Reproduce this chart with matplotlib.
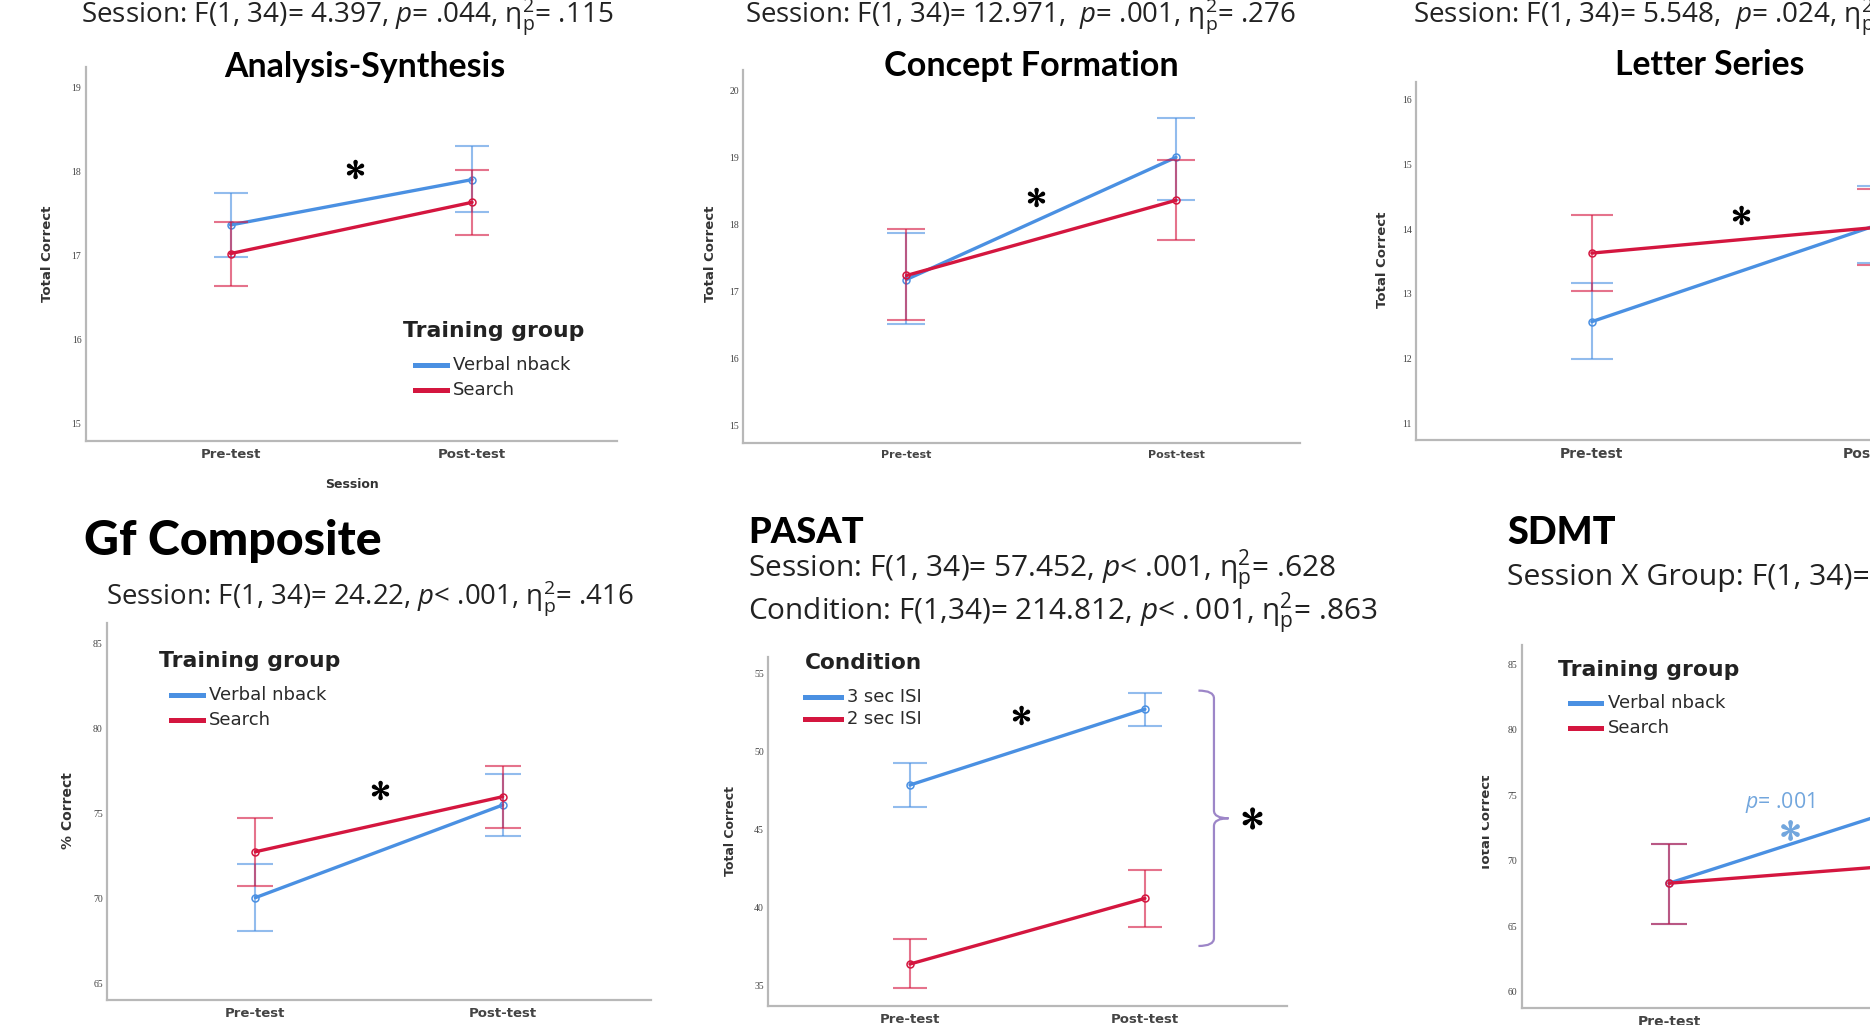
import matplotlib
matplotlib.use("Agg")
import matplotlib.pyplot as plt
from matplotlib.lines import Line2D
from matplotlib.patches import Rectangle, PathPatch
from matplotlib.path import Path

W, H, DPI = 1870, 1025, 100

plt.rcParams['mathtext.fontset'] = 'custom'
plt.rcParams['mathtext.rm'] = 'Open Sans'
plt.rcParams['mathtext.it'] = 'Open Sans:italic'
plt.rcParams['mathtext.bf'] = 'Open Sans:bold'
plt.rcParams['mathtext.fallback'] = 'stixsans'

# ---------------- data ----------------
sessions = ["Pre-test", "Post-test"]
groups = ["Verbal nback", "Search"]
conditions = ["3 sec ISI", "2 sec ISI"]

# Analysis-Synthesis
as_nback, as_nback_lo, as_nback_hi = [17.36, 17.90], [16.98, 17.52], [17.74, 18.30]
as_search, as_search_lo, as_search_hi = [17.02, 17.63], [16.64, 17.24], [17.40, 18.02]
# Concept Formation
cf_nback, cf_nback_lo, cf_nback_hi = [17.18, 19.00], [16.52, 18.37], [17.88, 19.58]
cf_search, cf_search_lo, cf_search_hi = [17.24, 18.36], [16.57, 17.77], [17.93, 18.96]
# Letter Series
ls_nback, ls_nback_lo, ls_nback_hi = [12.57, 14.07], [11.99, 13.48], [13.17, 14.66]
ls_search, ls_search_lo, ls_search_hi = [13.63, 14.03], [13.05, 13.44], [14.22, 14.62]
# Gf Composite
gf_nback, gf_nback_lo, gf_nback_hi = [70.04, 75.49], [68.08, 73.68], [72.02, 77.31]
gf_search, gf_search_lo, gf_search_hi = [72.74, 75.98], [70.72, 74.15], [74.71, 77.80]
# PASAT
pa_3s, pa_3s_lo, pa_3s_hi = [47.86, 52.73], [46.43, 51.66], [49.26, 53.80]
pa_2s, pa_2s_lo, pa_2s_hi = [36.35, 40.57], [34.79, 38.75], [37.94, 42.40]
# SDMT
sd_nback, sd_nback_lo, sd_nback_hi = [68.28, 74.20], [65.18, 71.20], [71.28, 77.20]
sd_search, sd_search_lo, sd_search_hi = [68.28, 69.70], [65.18, 66.70], [71.28, 72.70]

# statistics text
hdr_as = r"Session: F(1, 34)= 4.397, $\it{p}$= .044, $\mathregular{\eta_{p}^{2}}$= .115"
hdr_cf = r"Session: F(1, 34)= 12.971,  $\it{p}$= .001, $\mathregular{\eta_{p}^{2}}$= .276"
hdr_ls = r"Session: F(1, 34)= 5.548,  $\it{p}$= .024, $\mathregular{\eta_{p}^{2}}$"
hdr_gf = r"Session: F(1, 34)= 24.22, $\it{p}$< .001, $\mathregular{\eta_{p}^{2}}$= .416"
hdr_pa1 = r"Session: F(1, 34)= 57.452, $\it{p}$< .001, $\mathregular{\eta_{p}^{2}}$= .628"
hdr_pa2 = r"Condition: F(1,34)= 214.812, $\it{p}$< $\it{.001}$, $\mathregular{\eta_{p}^{2}}$= .863"
hdr_sd = r"Session X Group: F(1, 34)="
sd_ptext = r"$\it{p}$= .001"

BLUE = '#4a90e2'
RED = '#d4163f'
LBLUE = '#72a6dd'
PURPLE = '#9d86c8'
SPINE = '#b8b8b8'

fig = plt.figure(figsize=(W / DPI, H / DPI), dpi=DPI)
fig.patch.set_facecolor('white')
REN = fig.canvas.get_renderer()


def fx(x):
    return x / W


def fy(y):
    return 1 - y / H


def ftext(x, y, s, **kw):
    return fig.text(fx(x), fy(y), s, **kw)


def fit(t, width):
    w = t.get_window_extent(renderer=REN).width
    t.set_fontsize(t.get_fontsize() * width / w)
    return t.get_fontsize()


def make_ax(l, t, r, b, xlim, ylim, yticks, capsize, xt_size=9.5, yt_size=7):
    ax = fig.add_axes([fx(l), fy(b), (r - l) / W, (b - t) / H])
    ax.set_xlim(*xlim)
    ax.set_ylim(*ylim)
    ax.set_xticks(range(len(sessions)))
    ax.set_xticklabels(sessions)
    ax.set_yticks(yticks)
    for s in ['top', 'right']:
        ax.spines[s].set_visible(False)
    for s in ['left', 'bottom']:
        ax.spines[s].set_color(SPINE)
        ax.spines[s].set_linewidth(1.6)
    ax.tick_params(length=0)
    ax.tick_params(axis='x', pad=5)
    ax.tick_params(axis='y', pad=3)
    for lab in ax.get_xticklabels():
        lab.set_fontfamily(['Liberation Sans Narrow', 'DejaVu Sans'])
        lab.set_fontweight('bold')
        lab.set_fontsize(xt_size)
        lab.set_color('#444444')
    for lab in ax.get_yticklabels():
        lab.set_fontfamily(['Liberation Serif', 'DejaVu Serif'])
        lab.set_fontsize(yt_size)
        lab.set_color('#444444')
    ax.patch.set_alpha(0)
    ax._capsize = capsize
    return ax


def series(ax, mean, lo, hi, color):
    x = list(range(len(sessions)))
    err = [[m - l for m, l in zip(mean, lo)], [h - m for m, h in zip(mean, hi)]]
    ax.errorbar(x, mean, yerr=err, fmt='none', ecolor=color, alpha=0.6,
                elinewidth=1.5, capsize=ax._capsize, capthick=1.5)
    ax.plot(x, mean, color=color, lw=2.4, marker='o', ms=5, mfc='none',
            mew=1.1, solid_capstyle='round')


def star(ax, x, y, color='black', ms=13):
    ax.plot([x], [y], marker=r'$\ast$', ms=ms, color=color, ls='none')


def legend(title, labels, colors, tx, ty, lx0, lx1, ys, textx, title_w, label_w):
    t = ftext(tx, ty, title, ha='left', va='center', fontsize=12,
              fontweight='bold', family='DejaVu Sans', color='#222222')
    fit(t, title_w)
    size = None
    for lab, c, y in zip(labels, colors, ys):
        fig.add_artist(Line2D([fx(lx0), fx(lx1)], [fy(y), fy(y)], color=c, lw=3.6,
                              transform=fig.transFigure))
        tt = ftext(textx, y, lab, ha='left', va='center', fontsize=11,
                   family='DejaVu Sans', color='#2a2a2a')
        if size is None:
            size = fit(tt, label_w)
        else:
            tt.set_fontsize(size)


def ylab(x, y, s, size=9.5):
    ftext(x, y, s, rotation=90, ha='center', va='center', fontsize=size,
          fontweight='bold', family='DejaVu Sans', color='#333333')


HDR = dict(family='Open Sans', color='#222222', fontsize=17)
TTL = dict(family='Lato', fontweight='bold', color='black', fontsize=20)
BIG = dict(family='Lato', fontweight='black', color='black', fontsize=26)

# ---------------- Analysis-Synthesis ----------------
ax1 = make_ax(85.6, 67, 617, 441, (-0.6, 1.6), (14.79, 19.24), range(15, 20), 12, 9.5)
series(ax1, as_nback, as_nback_lo, as_nback_hi, BLUE)
series(ax1, as_search, as_search_lo, as_search_hi, RED)
star(ax1, 0.516, 18.03)
ylab(47.7, 254, "Total Correct")
ftext(352, 485, "Session", ha='center', va='center', fontsize=9, fontweight='bold',
      family='DejaVu Sans', color='#333333')
h1 = ftext(81, 23, hdr_as, ha='left', va='baseline', **HDR)
hsize = fit(h1, 533)
t1 = ftext(365, 77, "Analysis-Synthesis", ha='center', va='baseline', **TTL)
fit(t1, 281)
legend("Training group", groups, [BLUE, RED], 403, 331, 415, 447, [365, 390], 453, 179, 117)

# ---------------- Concept Formation ----------------
ax2 = make_ax(743.4, 70, 1300, 442.7, (-0.605, 1.46), (14.75, 20.30), range(15, 21), 14, 8)
series(ax2, cf_nback, cf_nback_lo, cf_nback_hi, BLUE)
series(ax2, cf_search, cf_search_lo, cf_search_hi, RED)
star(ax2, 0.48, 18.41)
ylab(711, 254, "Total Correct")
h2 = ftext(745, 22, hdr_cf, ha='left', va='baseline', **HDR)
fit(h2, 552)
t2 = ftext(1031, 76, "Concept Formation", ha='center', va='baseline', **TTL)
fit(t2, 294.6)

# ---------------- Letter Series ----------------
ax3 = make_ax(1416, 81.7, 2050, 440, (-0.614, 1.6), (10.74, 16.28), range(11, 17), 15.1, 10)
series(ax3, ls_nback, ls_nback_lo, ls_nback_hi, BLUE)
series(ax3, ls_search, ls_search_lo, ls_search_hi, RED)
star(ax3, 0.52, 14.22)
ylab(1383, 260, "Total Correct")
h3 = ftext(1413, 23, hdr_ls, ha='left', va='baseline', **HDR)
h3.set_fontsize(hsize)
t3 = ftext(1709.6, 75, "Letter Series", ha='center', va='baseline', **TTL)
fit(t3, 190)

# ---------------- Gf Composite ----------------
ax4 = make_ax(107, 623.3, 651, 1000, (-0.6, 1.6), (64.02, 86.18), range(65, 86, 5), 12.9, 9.5)
series(ax4, gf_nback, gf_nback_lo, gf_nback_hi, BLUE)
series(ax4, gf_search, gf_search_lo, gf_search_hi, RED)
star(ax4, 0.505, 76.37)
ylab(68, 811, "% Correct", 10)
t4 = ftext(83.5, 555, "Gf Composite", ha='left', va='baseline', **BIG)
fit(t4, 298)
h4 = ftext(106, 605, hdr_gf, ha='left', va='baseline', **HDR)
fit(h4, 529.6)
legend("Training group", groups, [BLUE, RED], 158.6, 661, 170.5, 202.7, [695, 720], 208.7, 179, 117)

# ---------------- PASAT ----------------
ax5 = make_ax(767.9, 656.7, 1287, 1006, (-0.605, 1.605), (33.65, 56.11), range(35, 56, 5), 12.4, 9.5)
series(ax5, pa_3s, pa_3s_lo, pa_3s_hi, BLUE)
series(ax5, pa_2s, pa_2s_lo, pa_2s_hi, RED)
star(ax5, 0.472, 52.33)
ylab(730, 831, "Total Correct", 9)
t5 = ftext(747.8, 543, "PASAT", ha='left', va='baseline', **BIG)
fit(t5, 115.6)
h5a = ftext(747.8, 577, hdr_pa1, ha='left', va='baseline', **HDR)
fit(h5a, 588)
h5b = ftext(747.8, 620, hdr_pa2, ha='left', va='baseline', **HDR)
fit(h5b, 630)

# curly brace spanning both conditions
legend("Condition", conditions, [BLUE, RED], 805, 663, 805, 840.8, [697, 719], 846.7, 117, 75)
ytop, ybot = 53.93, 37.51
ymid = (ytop + ybot) / 2
xa, xe, xt, r = 1.294, 1.228, 1.356, 0.5
codes = [Path.MOVETO, Path.CURVE3, Path.CURVE3, Path.LINETO, Path.CURVE3, Path.CURVE3,
         Path.MOVETO, Path.CURVE3, Path.CURVE3, Path.LINETO, Path.CURVE3, Path.CURVE3]
verts = [(xe, ytop), (xa, ytop), (xa, ytop - r), (xa, ymid + r), (xa, ymid), (xt, ymid),
         (xt, ymid), (xa, ymid), (xa, ymid - r), (xa, ybot + r), (xa, ybot), (xe, ybot)]
ax5.add_patch(PathPatch(Path(verts, codes), fc='none', ec=PURPLE, lw=1.6, clip_on=False))
star(ax5, 1.457, ymid, ms=15)

# ---------------- SDMT ----------------
ax6 = make_ax(1521.7, 645, 2055, 1008.3, (-0.611, 1.6), (58.73, 86.47), range(60, 86, 5), 12.8, 10)
series(ax6, sd_nback, sd_nback_lo, sd_nback_hi, BLUE)
series(ax6, sd_search, sd_search_lo, sd_search_hi, RED)
star(ax6, 0.50, 72.35, color=LBLUE, ms=14)
pt = ax6.text(0.46, 74.43, sd_ptext, ha='center', va='center', fontsize=15,
              family='Open Sans', color=LBLUE)
fit(pt, 70)
ylab(1486, 823, "Total Correct")
fig.add_artist(Rectangle((fx(1430), fy(950)), (1482 - 1430) / W, 250 / H,
                         transform=fig.transFigure, fc='white', ec='none', zorder=5))
t6 = ftext(1507.4, 544, "SDMT", ha='left', va='baseline', **BIG)
fit(t6, 108.6)
h6 = ftext(1507.4, 585, hdr_sd, ha='left', va='baseline', **HDR)
fit(h6, 362.6)
legend("Training group", groups, [BLUE, RED], 1557.5, 670, 1569.5, 1600.5, [703, 728], 1607.6, 179, 117)

fig.savefig("out.png", dpi=DPI)
